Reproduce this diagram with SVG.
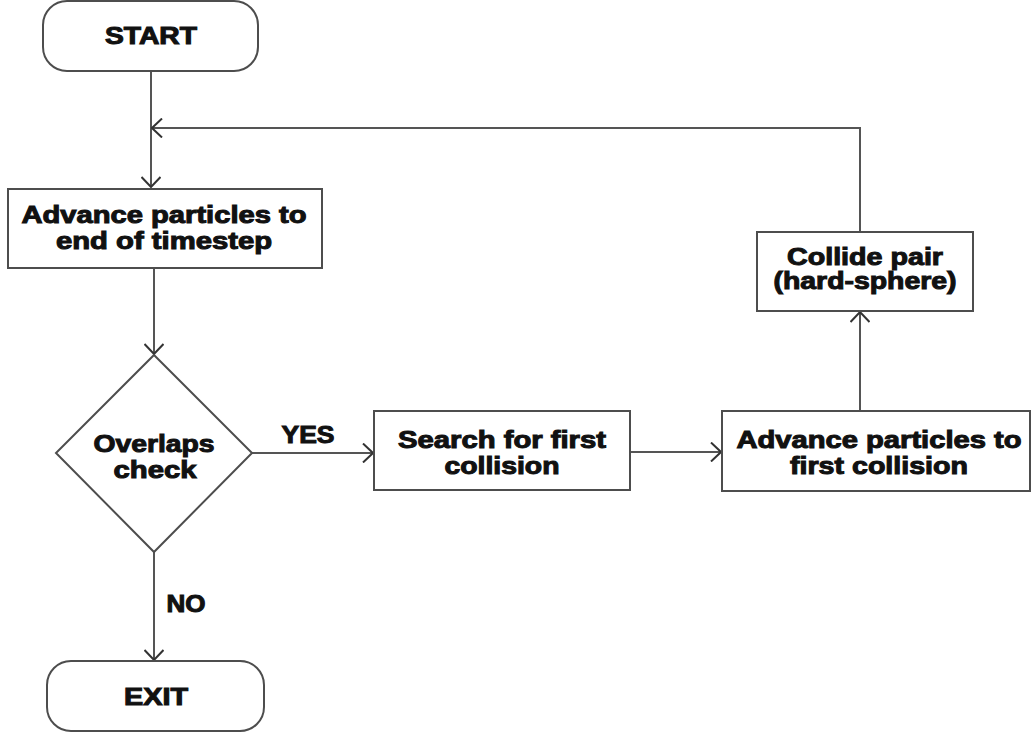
<svg xmlns="http://www.w3.org/2000/svg" width="1031" height="735" viewBox="0 0 1031 735">
<style>
.shape{fill:#fff;stroke:#4d4d4d;stroke-width:2}
.conn{fill:none;stroke:#555;stroke-width:2}
.t{font-family:"Liberation Sans",Arial,sans-serif;font-weight:bold;font-size:23px;fill:#111;stroke:#111;stroke-width:1;text-anchor:middle}
</style>
<defs>
<marker id="arr" markerUnits="userSpaceOnUse" markerWidth="12" markerHeight="20" viewBox="0 0 12 20" refX="11" refY="10" orient="auto">
<path d="M1,0.5 L11,10 L1,19.5" fill="none" stroke="#333" stroke-width="2"/>
</marker>
</defs>
<rect width="1031" height="735" fill="#fff"/>
<g id="connectors">
<path class="conn" d="M151,71 V187" marker-end="url(#arr)"/>
<path class="conn" d="M860,232 V128 H152" marker-end="url(#arr)"/>
<path class="conn" d="M154,268 V354" marker-end="url(#arr)"/>
<path class="conn" d="M252,453 H373" marker-end="url(#arr)"/>
<path class="conn" d="M630,452 H721" marker-end="url(#arr)"/>
<path class="conn" d="M860,410 V312" marker-end="url(#arr)"/>
<path class="conn" d="M154,552 V660" marker-end="url(#arr)"/>
</g>
<g id="start">
<rect class="shape" x="43" y="1" width="215" height="70" rx="24"/>
<text class="t" x="151" y="44" textLength="92" lengthAdjust="spacingAndGlyphs">START</text>
</g>
<g id="advance">
<rect class="shape" x="8" y="189" width="314" height="79"/>
<text class="t" x="164" y="223" textLength="285" lengthAdjust="spacingAndGlyphs">Advance particles to</text>
<text class="t" x="164" y="249" textLength="216" lengthAdjust="spacingAndGlyphs">end of timestep</text>
</g>
<g id="overlaps">
<polygon class="shape" points="154,355 252,453 154,552 56,453"/>
<text class="t" x="154" y="452" textLength="121" lengthAdjust="spacingAndGlyphs">Overlaps</text>
<text class="t" x="155" y="478" textLength="83" lengthAdjust="spacingAndGlyphs">check</text>
</g>
<g id="labels">
<text class="t" x="308" y="443" textLength="53" lengthAdjust="spacingAndGlyphs">YES</text>
<text class="t" x="186" y="612" textLength="39" lengthAdjust="spacingAndGlyphs">NO</text>
</g>
<g id="search">
<rect class="shape" x="374" y="411" width="256" height="79"/>
<text class="t" x="502" y="448" textLength="208" lengthAdjust="spacingAndGlyphs">Search for first</text>
<text class="t" x="502" y="474" textLength="115" lengthAdjust="spacingAndGlyphs">collision</text>
</g>
<g id="advance2">
<rect class="shape" x="722" y="411" width="308" height="80"/>
<text class="t" x="879" y="448" textLength="285" lengthAdjust="spacingAndGlyphs">Advance particles to</text>
<text class="t" x="879" y="474" textLength="178" lengthAdjust="spacingAndGlyphs">first collision</text>
</g>
<g id="collide">
<rect class="shape" x="757" y="232" width="216" height="79"/>
<text class="t" x="865" y="265" textLength="156" lengthAdjust="spacingAndGlyphs">Collide pair</text>
<text class="t" x="865" y="289" textLength="183" lengthAdjust="spacingAndGlyphs">(hard-sphere)</text>
</g>
<g id="exit">
<rect class="shape" x="47" y="661" width="217" height="70" rx="24"/>
<text class="t" x="156" y="705" textLength="64" lengthAdjust="spacingAndGlyphs">EXIT</text>
</g>
</svg>
